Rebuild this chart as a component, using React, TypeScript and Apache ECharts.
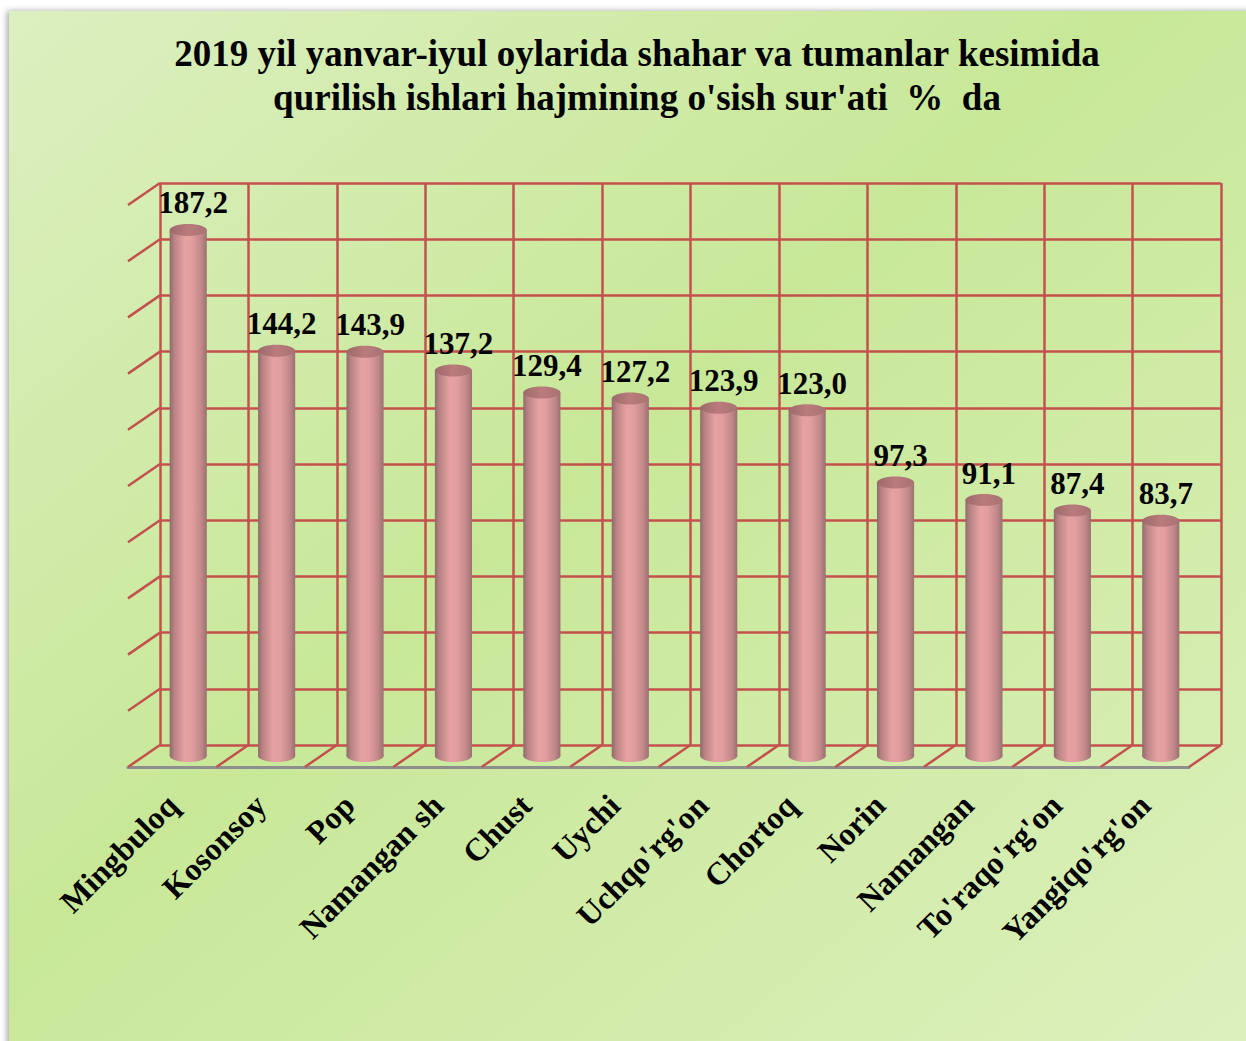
import React, { useEffect, useRef } from 'react';
import * as echarts from 'echarts';

const categories = [
  'Mingbuloq', 'Kosonsoy', 'Pop', 'Namangan sh', 'Chust', 'Uychi',
  "Uchqo'rg'on", 'Chortoq', 'Norin', 'Namangan', "To'raqo'rg'on", "Yangiqo'rg'on",
];
const values = [187.2, 144.2, 143.9, 137.2, 129.4, 127.2, 123.9, 123.0, 97.3, 91.1, 87.4, 83.7];
const yMin = 0;
const yMax = 200;
const yStep = 20;
const titleText = "2019 yil yanvar-iyul oylarida shahar va tumanlar kesimida\nqurilish ishlari hajmining o'sish sur'ati  %  da";

const yTicks: number[] = [];
for (let v = yMin; v <= yMax; v += yStep) yTicks.push(v);
const valueLabels = values.map((v) => v.toFixed(1).replace('.', ','));

const DX = -32;
const DY = 22;
const RED = '#c4504e';
const FONT = "'Liberation Serif', 'Times New Roman', serif";

export default function App() {
  const ref = useRef<HTMLDivElement>(null);
  useEffect(() => {
    if (!ref.current) return;
    const chart = echarts.init(ref.current, undefined, { renderer: 'svg' });

    const bodyGrad = new echarts.graphic.LinearGradient(0, 0, 1, 0, [
      { offset: 0, color: '#8f6a6b' },
      { offset: 0.12, color: '#b88283' },
      { offset: 0.4, color: '#e6a1a1' },
      { offset: 0.6, color: '#e29d9e' },
      { offset: 0.85, color: '#c18889' },
      { offset: 1, color: '#9a7071' },
    ]);
    const topGrad = new echarts.graphic.LinearGradient(0, 0, 1, 0, [
      { offset: 0, color: '#9c6a6b' },
      { offset: 0.5, color: '#bb7b7c' },
      { offset: 1, color: '#a87273' },
    ]);

    const option: any = {
      animation: false,
      title: {
        text: titleText,
        left: 632,
        top: 26,
        textAlign: 'center',
        textStyle: {
          fontFamily: FONT,
          fontWeight: 'bold',
          fontSize: 37,
          lineHeight: 44,
          color: '#000',
        },
      },
      graphic: [
        {
          type: 'rect',
          z: -100,
          shape: { x: 9, y: 11, width: 1245, height: 1040 },
          style: {
            fill: new echarts.graphic.LinearGradient(0, 0, 1, 1, [
              { offset: 0, color: '#dcefc0' },
              { offset: 0.45, color: '#c8e898' },
              { offset: 1, color: '#dcf0bd' },
            ]),
            shadowBlur: 6,
            shadowOffsetX: -2,
            shadowColor: 'rgba(0,0,0,0.35)',
          },
        },
      ],
      grid: [
        { left: 160, right: 25, top: 183, bottom: 296 },
        { left: 128, right: 57, top: 205, bottom: 274 },
      ],
      xAxis: [
        {
          type: 'category',
          gridIndex: 0,
          data: categories,
          boundaryGap: true,
          axisLine: { show: false },
          axisTick: { show: false },
          axisLabel: { show: false },
          splitLine: { show: true, interval: 0, lineStyle: { color: RED, width: 2.5 } },
        },
        {
          type: 'category',
          gridIndex: 1,
          data: categories,
          boundaryGap: true,
          axisLine: { show: true, lineStyle: { color: '#8e8e8e', width: 3 } },
          axisTick: { show: false },
          axisLabel: {
            show: true,
            interval: 0,
            rotate: 45,
            margin: 33,
            fontFamily: FONT,
            fontWeight: 'bold',
            fontSize: 32,
            color: '#000',
          },
          splitLine: { show: false },
        },
      ],
      yAxis: [
        {
          type: 'value',
          gridIndex: 0,
          min: yMin,
          max: yMax,
          interval: yStep,
          axisLine: { show: false },
          axisTick: { show: false },
          axisLabel: { show: false },
          splitLine: { show: true, lineStyle: { color: RED, width: 2.5 } },
        },
        {
          type: 'value',
          gridIndex: 1,
          min: yMin,
          max: yMax,
          interval: yStep,
          show: false,
        },
      ],
      series: [
        {
          type: 'custom',
          name: 'frame',
          xAxisIndex: 0,
          yAxisIndex: 0,
          z: 1,
          silent: true,
          data: categories.map((_, i) => [i, 0]),
          renderItem: (params: any, api: any) => {
            const i = api.value(0);
            const c = api.coord([i, 0]);
            const bw = api.size([1, 0])[0];
            const children: any[] = [];
            const lx = c[0] - bw / 2;
            const y0 = c[1];
            const ls = { stroke: RED, lineWidth: 2.5 };
            children.push({ type: 'line', shape: { x1: lx, y1: y0, x2: lx + DX, y2: y0 + DY }, style: ls });
            if (i === categories.length - 1) {
              const rx = c[0] + bw / 2;
              children.push({ type: 'line', shape: { x1: rx, y1: y0, x2: rx + DX, y2: y0 + DY }, style: ls });
            }
            if (i === 0) {
              yTicks.forEach((t) => {
                if (t === yMin) return;
                const p = api.coord([0, t]);
                children.push({ type: 'line', shape: { x1: lx, y1: p[1], x2: lx + DX, y2: p[1] + DY }, style: ls });
              });
            }
            return { type: 'group', children };
          },
        },
        {
          type: 'custom',
          name: 'bars',
          xAxisIndex: 0,
          yAxisIndex: 0,
          z: 5,
          data: values.map((v, i) => [i, v]),
          renderItem: (params: any, api: any) => {
            const i = api.value(0);
            const base = api.coord([i, 0]);
            const top = api.coord([i, api.value(1)]);
            const bw = api.size([1, 0])[0];
            const w = bw * 0.42;
            const rx = w / 2;
            const ry = 6;
            const cx = base[0] + DX / 2;
            const by = base[1] + DY / 2;
            const ty = top[1] + DY / 2;
            return {
              type: 'group',
              children: [
                { type: 'ellipse', shape: { cx, cy: by, rx, ry }, style: { fill: bodyGrad } },
                { type: 'rect', shape: { x: cx - rx, y: ty, width: w, height: by - ty }, style: { fill: bodyGrad } },
                { type: 'ellipse', shape: { cx, cy: ty, rx, ry }, style: { fill: topGrad } },
                {
                  type: 'text',
                  x: cx + 5,
                  y: ty - 27,
                  style: {
                    text: valueLabels[i],
                    fill: '#000',
                    fontFamily: FONT,
                    fontWeight: 'bold',
                    fontSize: 31,
                    align: 'center',
                    verticalAlign: 'middle',
                  },
                },
              ],
            };
          },
        },
      ],
    };
    chart.setOption(option);
    return () => chart.dispose();
  }, []);
  return (
    <div
      ref={ref}
      style={{ position: 'absolute', left: 0, top: 0, width: 1246, height: 1041, background: '#fff' }}
    />
  );
}
